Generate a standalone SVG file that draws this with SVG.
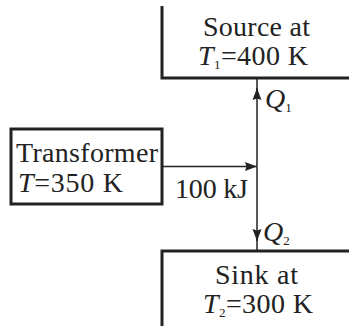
<svg xmlns="http://www.w3.org/2000/svg" width="349" height="326" viewBox="0 0 349 326">
<defs>
<style>
.box{fill:none;stroke:#222;stroke-width:3}
.ln{fill:none;stroke:#222;stroke-width:1.5}
text{font-family:"Liberation Serif","DejaVu Serif",serif;font-size:28px;fill:#222}
.it{font-style:italic}
.sub{font-size:13px}
</style>
<marker id="ah" markerUnits="userSpaceOnUse" markerWidth="14" markerHeight="12" refX="12" refY="5" orient="auto">
<path d="M0,0.5 L12,5 L0,9.5 L1.5,5 z" fill="#222"/>
</marker>
</defs>
<rect width="349" height="326" fill="#fff"/>
<g id="source">
<path class="box" d="M162,6 V78 H349"/>
<text x="203" y="36" textLength="107">Source at</text>
<text x="198" y="65" textLength="110"><tspan class="it">T</tspan><tspan class="sub" dy="4">1</tspan><tspan dy="-4">=400 K</tspan></text>
</g>
<g id="transformer">
<rect class="box" x="11" y="129" width="151" height="75"/>
<text x="16" y="162" textLength="142">Transformer</text>
<text x="18" y="192" textLength="105"><tspan class="it">T</tspan>=350 K</text>
</g>
<g id="sink">
<path class="box" d="M162,326 V251 H349"/>
<text x="215" y="284" textLength="83">Sink at</text>
<text x="203" y="313" textLength="110"><tspan class="it">T</tspan><tspan class="sub" dy="4">2</tspan><tspan dy="-4">=300 K</tspan></text>
</g>
<g id="connectors">
<path class="ln" d="M162,166.5 H257" marker-end="url(#ah)"/>
<path class="ln" d="M257,166.5 V88" marker-end="url(#ah)"/>
<path class="ln" d="M257,92 V78"/>
<path class="ln" d="M257,166.5 V241" marker-end="url(#ah)"/>
<path class="ln" d="M257,238 V251"/>
<text x="175" y="198" textLength="73">100 kJ</text>
<text x="265" y="108"><tspan class="it">Q</tspan><tspan class="sub" dy="4">1</tspan></text>
<text x="263" y="241"><tspan class="it">Q</tspan><tspan class="sub" dy="4">2</tspan></text>
</g>
</svg>
